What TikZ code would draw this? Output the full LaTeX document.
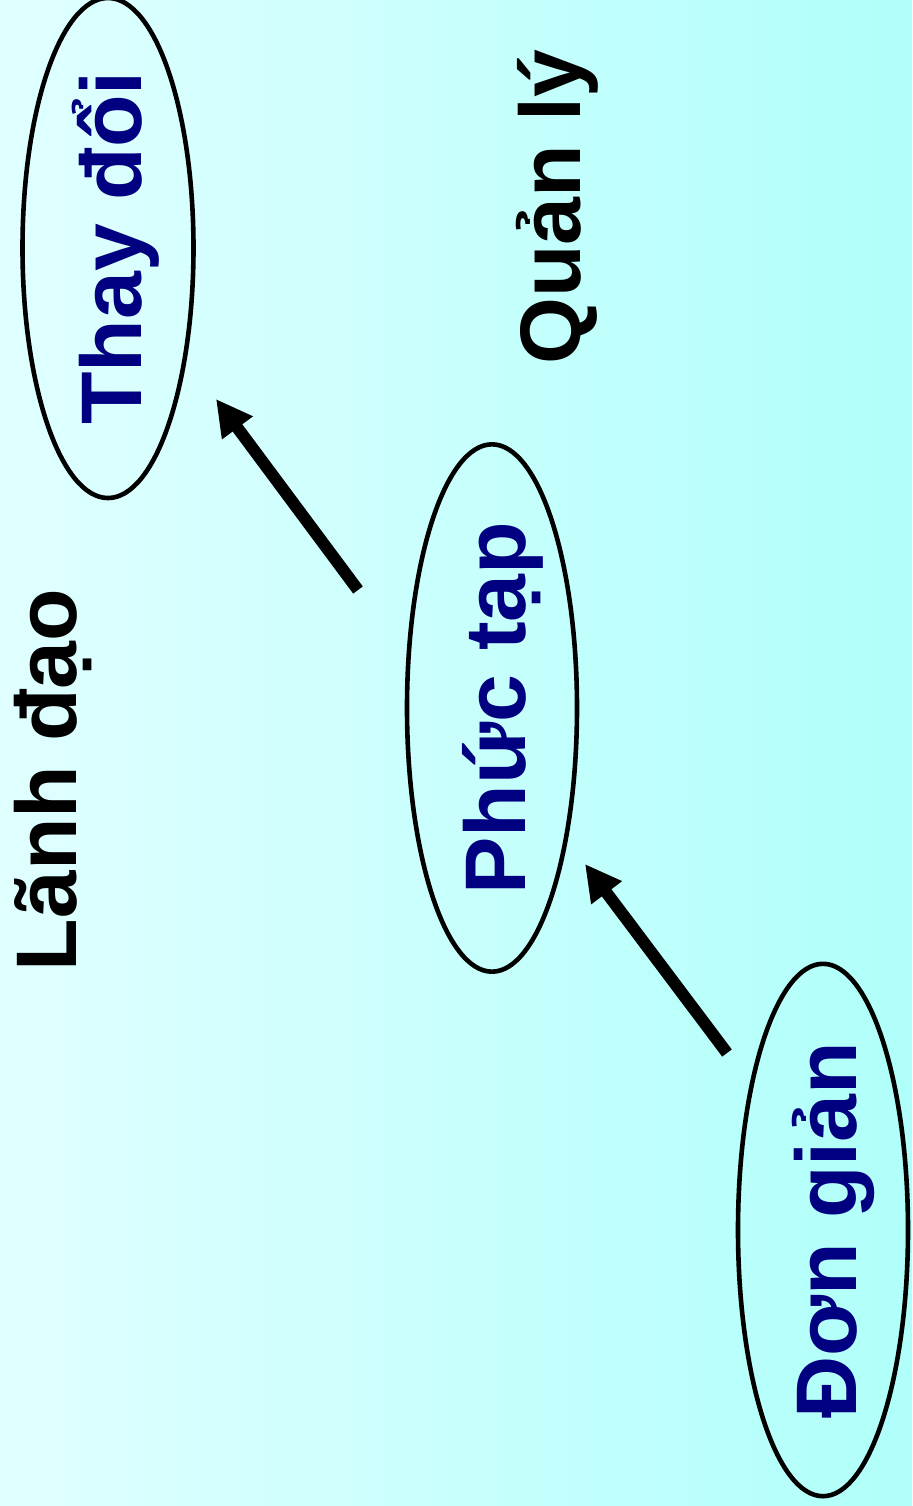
\documentclass[tikz,border=0pt]{standalone}
\usepackage{fontspec}
\setmainfont{Liberation Sans}
\usepackage{xcolor}
\usepackage{tikz}
\usetikzlibrary{shapes.geometric}
\usetikzlibrary{positioning}
\usepgflibrary{arrows.meta}
\definecolor{bgleft}{RGB}{224,255,255}
\definecolor{bgright}{RGB}{176,255,250}
\definecolor{stagetext}{RGB}{0,0,128}
\begin{document}
\begin{tikzpicture}[x=0.5pt,y=-0.5pt,
    stage/.style={ellipse,draw=black,line width=2.3pt,inner sep=0pt,rotate=90,
      text height=33pt,text depth=0pt,
      text=stagetext,font=\bfseries\fontsize{43}{50}\selectfont},
    heading/.style={anchor=base,rotate=90,text=black,
      font=\bfseries\fontsize{43}{50}\selectfont},
    trend/.style={line width=6pt,-{Triangle[length=18pt,width=18pt]}}]
      \shade[left color=bgleft,right color=bgright] (0,0) rectangle (912,1506);
      \useasboundingbox (0,0) rectangle (912,1506);
      % the three stages
      \node[stage,minimum width=248pt,minimum height=85.5pt] (thaydoi) at (108,248) {Thay đổi};
      \node[stage,minimum width=261.5pt,minimum height=85pt] (phuctap) at (492,708) {Phức tạp};
      \node[stage,minimum width=265pt,minimum height=85pt] (dongian) at (823,1230) {Đơn giản};
      % side headings
      \node[heading] (quanly) at (580,207) {Quản lý};
      \node[heading] (lanhdao) at (76,780) {Lãnh đạo};
      % arrows between the stages
      \coordinate (a1s) at (727,1053);
      \coordinate (a1e) at (585,864);
      \coordinate (a2s) at (358,590);
      \coordinate (a2e) at (216,399);
      \draw[trend] (a1s) -- (a1e);
      \draw[trend] (a2s) -- (a2e);
    \end{tikzpicture}
\end{document}
